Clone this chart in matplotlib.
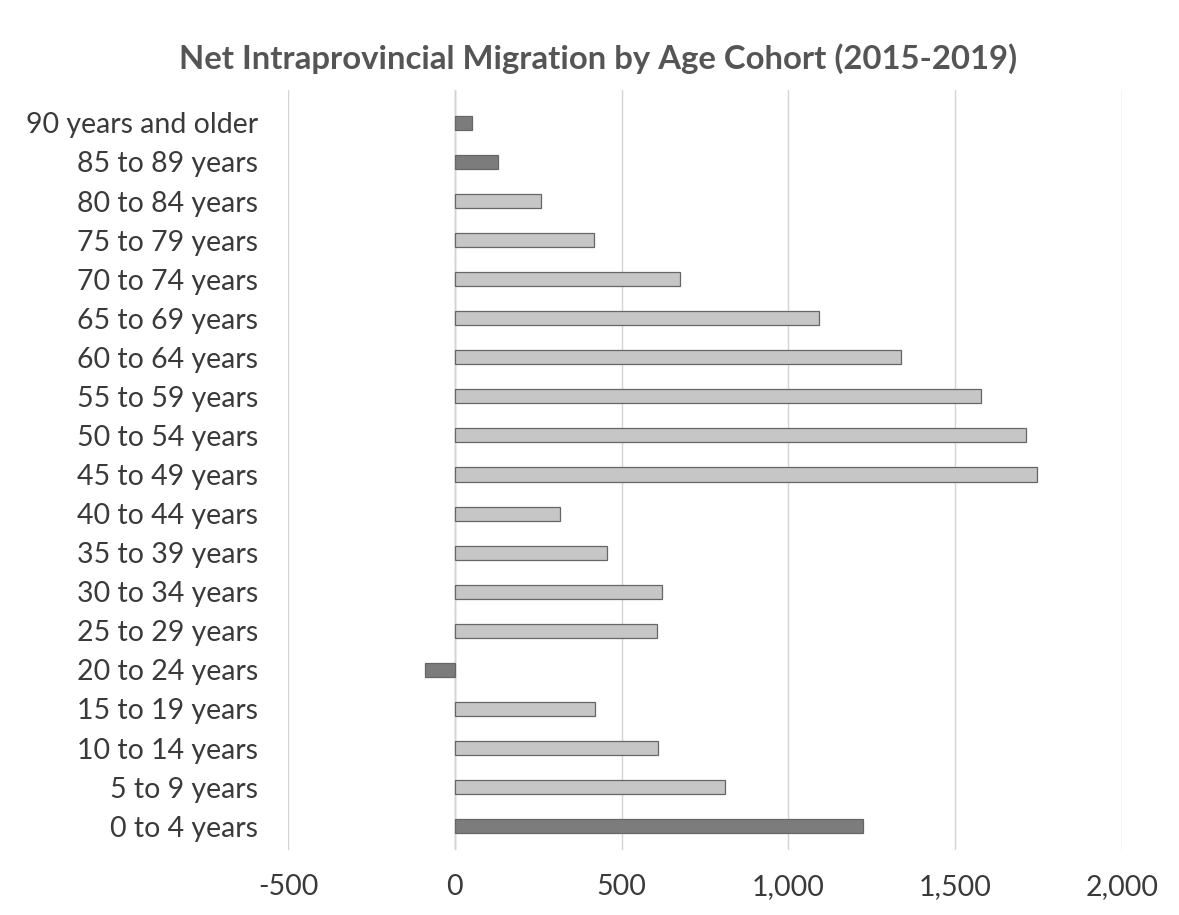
import matplotlib
matplotlib.use("Agg")
import matplotlib.pyplot as plt

# Age cohorts listed from youngest to oldest (bottom to top on the chart)
cohorts = [
    "0 to 4 years", "5 to 9 years", "10 to 14 years", "15 to 19 years",
    "20 to 24 years", "25 to 29 years", "30 to 34 years", "35 to 39 years",
    "40 to 44 years", "45 to 49 years", "50 to 54 years", "55 to 59 years",
    "60 to 64 years", "65 to 69 years", "70 to 74 years", "75 to 79 years",
    "80 to 84 years", "85 to 89 years", "90 years and older",
]
net_migration = [
    1223, 811, 608, 420,
    -89, 606, 620, 455,
    315, 1744, 1711, 1577,
    1336, 1091, 676, 417,
    257, 128, 52,
]
# cohorts printed in a darker shade
dark_cohorts = ["0 to 4 years", "20 to 24 years", "85 to 89 years", "90 years and older"]

x_ticks = [-500, 0, 500, 1000, 1500, 2000]
x_tick_labels = ["-500", "0", "500", "1,000", "1,500", "2,000"]

title = "Net Intraprovincial Migration by Age Cohort (2015-2019)"

plt.rcParams["font.family"] = ["Lato", "DejaVu Sans"]

fig = plt.figure(figsize=(11.79, 9.15), dpi=100)
ax = fig.add_axes([0.2443, 0.0710, 0.7074, 0.8306])

light = "#c6c6c6"
dark = "#7c7c7c"
colors = [dark if c in dark_cohorts else light for c in cohorts]
ypos = list(range(len(cohorts)))
ax.barh(ypos, net_migration, height=0.36, color=colors,
        edgecolor="#666666", linewidth=0.9, zorder=3)

ax.set_xlim(-500, 2000)
ax.set_ylim(-0.61, 18.84)
ax.set_xticks(x_ticks)
ax.set_xticklabels(x_tick_labels)
ax.set_yticks(ypos)
ax.set_yticklabels(cohorts)

ax.grid(axis="x", color="#d4d4d4", linewidth=1.0, zorder=0)
ax.axvline(0, color="#b5b5b5", linewidth=1.0, zorder=1)
for s in ax.spines.values():
    s.set_visible(False)

ax.tick_params(axis="both", length=0, labelsize=20.5, labelcolor="#3a3a3a")
ax.tick_params(axis="y", pad=21.6)
ax.tick_params(axis="x", pad=17)

fig.text(0.507, 0.936, title, ha="center", va="center",
         fontsize=23.7, fontweight="bold", color="#555555")

fig.savefig("out.png", dpi=100, facecolor="white")
